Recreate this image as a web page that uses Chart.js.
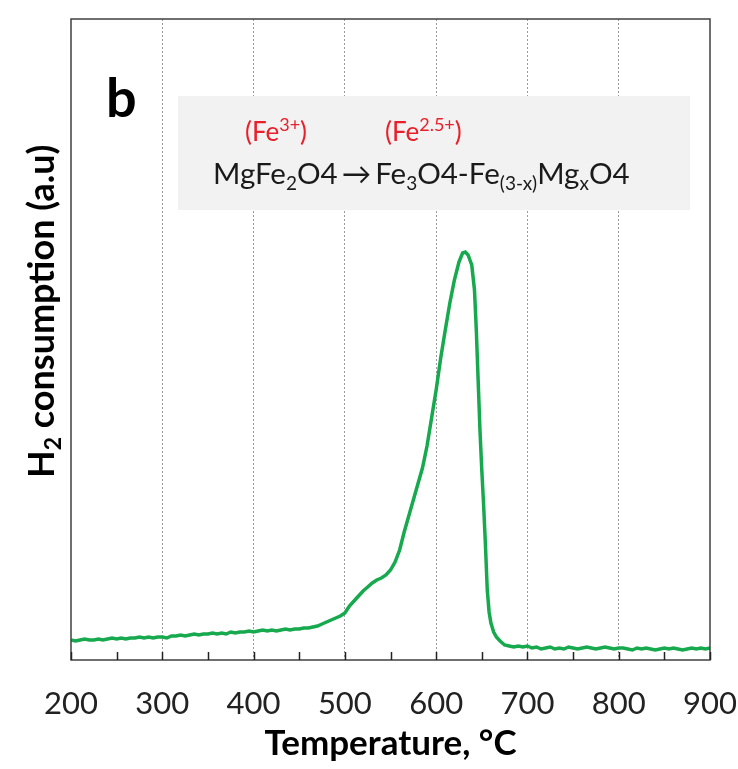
<!DOCTYPE html>
<html>
<head>
<meta charset="utf-8">
<script src="https://cdn.jsdelivr.net/npm/chart.js@4/dist/chart.umd.min.js"></script>
<style>
  html, body { margin: 0; padding: 0; background: #fff; }
  #wrap { width: 738px; height: 769px; }
</style>
</head>
<body>
<div id="wrap"><canvas id="tpr" width="738" height="769"></canvas></div>
<script>
// temperature (°C) and H2 consumption (a.u.)
const temps = [200,205,210,215,220,225,230,235,240,245,250,255,260,265,270,275,280,285,290,295,
  300,305,310,315,320,325,330,335,340,345,350,355,360,365,370,375,380,385,390,395,
  400,405,410,415,420,425,430,435,440,445,450,455,460,465,470,475,480,485,490,495,
  500,505,510,515,520,525,530,535,540,545,550,555,560,565,570,575,580,585,590,595,
  600,605,610,615,620,625,629,632,635,637,639,642,644,646,648,650,652,654,656,658,
  660,663,666,670,675,680,685,690,695,700,705,710,715,720,725,730,735,740,745,750,
  755,760,765,770,775,780,785,790,795,800,805,810,815,820,825,830,835,840,845,850,
  855,860,865,870,875,880,885,890,895,900];
const h2 = [20,19,20,21,20,20,21,20,21,22,21,22,21,22,22,23,22,23,22,23,
  23,22,24,24,25,24,25,26,25,26,26,27,26,27,26,28,27,28,28,29,
  28,29,30,29,30,29,30,31,30,31,31,32,32,33,34,36,38,40,42,44,
  47,54,59,64,69,73,77,80,82,85,90,98,110,128,144,160,176,192,214,242,
  270,302,330,357,380,398,407,408,405,400,395,370,330,280,230,190,155,115,70,48,
  37,28,23,19,15,14,13,14,13,14,12,13,11,12,13,11,12,11,13,12,
  11,12,13,12,11,12,13,12,11,12,12,11,10,12,11,12,11,10,11,12,
  11,12,11,10,11,12,11,12,11,12];
const xTicks = [200,300,400,500,600,700,800,900];
const minorTicks = [200,250,300,350,400,450,500,550,600,650,700,750,800,850,900];

const FONT = 'Lato, "Open Sans", sans-serif';

// draw a row of text pieces with sub/superscripts
function drawRuns(ctx, x, y, runs, color) {
  ctx.fillStyle = color;
  ctx.textBaseline = 'alphabetic';
  ctx.textAlign = 'left';
  runs.forEach(r => {
    ctx.font = (r.bold ? 'bold ' : '') + r.size + 'px ' + FONT;
    ctx.fillText(r.t, x, y + (r.dy || 0));
    x += ctx.measureText(r.t).width + (r.gap || 0);
  });
}

const decor = {
  id: 'decor',
  afterDraw(chart) {
    const ctx = chart.ctx;
    const a = chart.chartArea;
    const xs = chart.scales.x;
    ctx.save();

    // frame
    ctx.strokeStyle = '#404040';
    ctx.lineWidth = 1.5;
    ctx.strokeRect(a.left, a.top, a.right - a.left, a.bottom - a.top);

    // inward ticks on the bottom axis
    ctx.strokeStyle = '#222';
    ctx.lineWidth = 1.5;
    minorTicks.forEach(v => {
      const px = Math.round(xs.getPixelForValue(v)) + 0.5;
      ctx.beginPath();
      ctx.moveTo(px, a.bottom);
      ctx.lineTo(px, a.bottom - 8);
      ctx.stroke();
    });

    // panel letter
    ctx.fillStyle = '#000';
    ctx.font = 'bold 54px ' + FONT;
    ctx.textBaseline = 'alphabetic';
    ctx.fillText('b', 106, 117);

    // reaction box
    ctx.fillStyle = '#f2f2f2';
    ctx.fillRect(178, 96, 512, 114);

    const S = 29.5, s = 19;
    drawRuns(ctx, 213, 184, [
      {t: 'MgFe', size: S}, {t: '2', size: s, dy: 6}, {t: 'O', size: S}, {t: '4', size: S, gap: 4},
      {t: '\u2192', size: S, gap: 4},
      {t: 'Fe', size: S}, {t: '3', size: s, dy: 6}, {t: 'O', size: S}, {t: '4', size: S},
      {t: '-Fe', size: S}, {t: '(3-x)', size: s, dy: 6}, {t: 'Mg', size: S}, {t: 'x', size: s, dy: 6},
      {t: 'O', size: S}, {t: '4', size: S}
    ], '#1a1a1a');

    const R = 26, r = 18;
    drawRuns(ctx, 245, 141, [
      {t: '(Fe', size: R}, {t: '3+', size: r, dy: -10}, {t: ')', size: R}
    ], '#e8202a');
    drawRuns(ctx, 385, 141, [
      {t: '(Fe', size: R}, {t: '2.5+', size: r, dy: -10}, {t: ')', size: R}
    ], '#e8202a');

    // y axis title with subscript
    ctx.translate(54, 478);
    ctx.rotate(-Math.PI / 2);
    drawRuns(ctx, 0, 0, [
      {t: 'H', size: 36, bold: true}, {t: '2', size: 23, bold: true, dy: 7},
      {t: ' consumption (a.u)', size: 36, bold: true}
    ], '#000');

    ctx.restore();
  }
};

new Chart(document.getElementById('tpr'), {
  type: 'line',
  data: {
    datasets: [{
      data: temps.map((t, i) => ({x: t, y: h2[i]})),
      borderColor: '#17a94e',
      borderWidth: 3.5,
      pointRadius: 0,
      tension: 0,
      fill: false
    }]
  },
  options: {
    responsive: false,
    animation: false,
    layout: { padding: { top: 19, right: 0, left: 0, bottom: 0 } },
    plugins: { legend: { display: false }, tooltip: { enabled: false } },
    scales: {
      x: {
        type: 'linear',
        min: 200, max: 900,
        afterFit: s => { s.height = 109; s.paddingRight = 28; s.paddingLeft = 0; },
        afterBuildTicks: s => { s.ticks = xTicks.map(v => ({value: v})); },
        ticks: { color: '#222', font: { family: FONT, size: 31 }, padding: 25 },
        grid: {
          drawTicks: false,
          lineWidth: 1,
          color: c => (c.tick && c.tick.value > 200 && c.tick.value < 900) ? '#9a9a9a' : 'rgba(0,0,0,0)'
        },
        border: { display: false, dash: [2, 2] },
        title: {
          display: true,
          text: 'Temperature, \u00B0C',
          color: '#000',
          font: { family: FONT, size: 35, weight: 'bold' },
          padding: { top: 0, bottom: 4 }
        }
      },
      y: {
        min: 0, max: 641,
        afterFit: s => { s.width = 71; },
        ticks: { display: false },
        grid: { display: false },
        border: { display: false }
      }
    }
  },
  plugins: [decor]
});
</script>
</body>
</html>
